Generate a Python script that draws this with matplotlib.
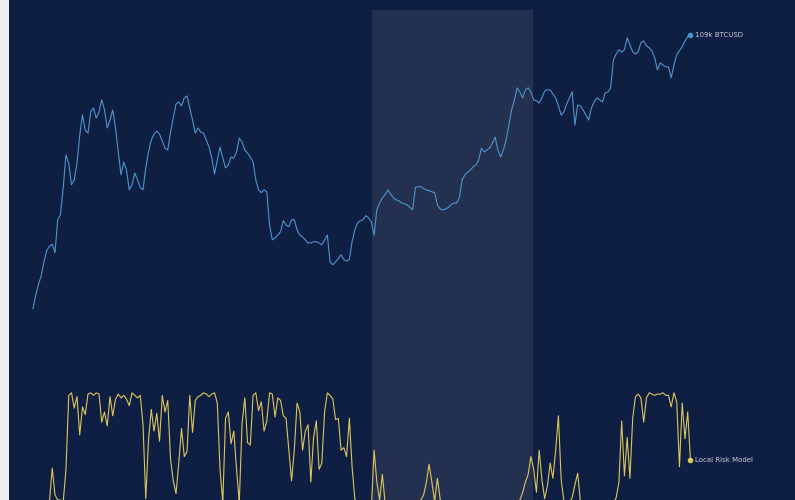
import pandas as pd
import matplotlib.pyplot as plt
from matplotlib.patches import Rectangle

# weekly BTC close (thousands of USD)
btc_price = [
    11.1, 12.4, 13.6, 14.6, 16.4, 18.0, 18.7, 19.0, 17.7, 23.3,
    24.3, 30.5, 40.0, 37.4, 31.2, 32.5, 37.4, 47.2, 55.8, 49.2,
    48.0, 57.3, 59.2, 54.4, 57.3, 63.3, 58.2, 50.1, 53.5, 58.2,
    50.1, 41.0, 33.9, 37.7, 35.3, 29.9, 31.2, 34.4, 32.5, 30.5,
    29.9, 35.9, 41.0, 45.3, 47.6, 48.8, 47.6, 44.9, 42.3, 41.7,
    48.4, 54.4, 61.2, 62.2, 60.2, 64.4, 65.4, 59.2, 53.5, 48.0,
    50.1, 48.4, 48.0, 45.3, 42.7, 39.0, 34.1, 38.3, 42.7, 39.0,
    35.9, 36.8, 39.3, 39.0, 41.0, 46.0, 44.6, 41.7, 40.6, 39.3,
    37.7, 32.5, 29.9, 29.2, 29.9, 29.4, 22.3, 19.7, 20.0, 20.5,
    21.1, 23.1, 22.3, 22.0, 23.3, 23.3, 21.4, 20.5, 20.2, 19.7,
    19.2, 19.2, 19.4, 19.4, 19.2, 18.9, 19.7, 20.5, 16.4, 16.0,
    16.4, 16.9, 17.4, 16.7, 16.5, 16.7, 19.4, 21.4, 22.7, 23.1,
    23.3, 24.1, 23.7, 22.9, 20.5, 25.3, 26.8, 28.0, 28.7, 29.9,
    28.9, 28.0, 27.5, 27.3, 26.8, 26.6, 26.4, 25.8, 25.3, 30.5,
    30.7, 30.7, 30.2, 29.9, 29.7, 29.4, 29.2, 26.4, 25.5, 25.3,
    25.5, 25.8, 26.4, 26.8, 26.8, 28.0, 32.5, 33.9, 34.7, 35.3,
    36.2, 36.8, 38.3, 42.3, 41.0, 41.7, 42.3, 44.2, 46.4, 41.7,
    39.3, 41.7, 45.3, 51.3, 58.2, 63.3, 70.0, 67.7, 64.4, 68.8,
    70.0, 67.7, 63.3, 62.8, 61.7, 64.4, 68.2, 68.8, 68.8, 66.5,
    64.4, 60.2, 55.8, 57.3, 61.2, 64.4, 67.7, 51.3, 60.7, 60.2,
    58.2, 55.8, 53.5, 59.2, 62.2, 64.4, 63.3, 62.2, 67.1, 67.7,
    70.0, 88.4, 92.9, 96.1, 94.5, 96.1, 106.3, 100.2, 94.5, 92.9,
    94.5, 102.0, 103.5, 99.3, 97.8, 95.3, 89.9, 81.3, 86.2, 84.8,
    83.4, 83.4, 76.1, 84.8, 92.2, 95.3, 98.6, 103.5, 107.2, 109.0,
]

# weekly local risk model (0-1)
risk = [
    0.05, 0.06, 0.08, 0.07, 0.10, 0.12, 0.15, 0.41, 0.20, 0.16,
    0.16, 0.15, 0.40, 0.98, 1.00, 0.88, 0.97, 0.67, 0.89, 0.83,
    0.99, 1.00, 0.98, 1.00, 0.99, 0.77, 0.85, 0.74, 0.97, 0.82,
    0.95, 0.99, 0.96, 0.98, 0.95, 0.90, 1.00, 0.98, 0.96, 0.98,
    0.75, 0.17, 0.63, 0.87, 0.70, 0.84, 0.62, 0.98, 0.85, 0.94,
    0.48, 0.31, 0.21, 0.45, 0.72, 0.50, 0.54, 0.98, 0.69, 0.94,
    0.97, 0.98, 1.00, 0.99, 0.97, 0.99, 1.00, 0.92, 0.40, 0.14,
    0.80, 0.85, 0.60, 0.70, 0.40, 0.14, 0.76, 0.96, 0.61, 0.59,
    0.98, 1.00, 0.86, 0.93, 0.70, 0.78, 1.00, 0.99, 0.81, 0.96,
    0.94, 0.82, 0.80, 0.55, 0.31, 0.55, 0.92, 0.85, 0.55, 0.70,
    0.75, 0.30, 0.65, 0.78, 0.40, 0.45, 0.85, 1.00, 0.98, 0.95,
    0.79, 0.80, 0.55, 0.57, 0.50, 0.80, 0.42, 0.17, 0.12, 0.08,
    0.05, 0.04, 0.06, 0.10, 0.55, 0.30, 0.16, 0.36, 0.14, 0.08,
    0.05, 0.04, 0.03, 0.05, 0.07, 0.06, 0.04, 0.05, 0.08, 0.10,
    0.12, 0.16, 0.20, 0.30, 0.44, 0.30, 0.15, 0.33, 0.17, 0.08,
    0.06, 0.05, 0.04, 0.05, 0.06, 0.05, 0.04, 0.03, 0.04, 0.05,
    0.06, 0.05, 0.04, 0.03, 0.04, 0.06, 0.08, 0.07, 0.05, 0.04,
    0.05, 0.07, 0.09, 0.08, 0.10, 0.12, 0.13, 0.16, 0.22, 0.30,
    0.36, 0.50, 0.40, 0.22, 0.55, 0.32, 0.17, 0.27, 0.45, 0.33,
    0.55, 0.82, 0.32, 0.15, 0.12, 0.14, 0.18, 0.28, 0.37, 0.15,
    0.12, 0.10, 0.08, 0.06, 0.05, 0.05, 0.06, 0.07, 0.08, 0.07,
    0.09, 0.12, 0.18, 0.30, 0.78, 0.35, 0.65, 0.33, 0.80, 0.97,
    0.99, 0.96, 0.77, 0.96, 1.00, 0.99, 0.98, 0.99, 0.99, 1.00,
    0.98, 0.98, 0.89, 1.00, 0.93, 0.42, 0.92, 0.64, 0.85, 0.47,
]

start_date = "2020-10-19"
band_start = "2023-03-01"
band_end = "2024-04-14"

bg = "#0f1f43"
band_color = "#233050"
btc_color = "#4f93cb"
risk_color = "#dcc55c"
text_color = "#c5cad6"

price_dates = pd.date_range(start_date, periods=len(btc_price), freq="7D")
risk_dates = pd.date_range(start_date, periods=len(risk), freq="7D")

fig = plt.figure(figsize=(7.95, 5), dpi=100, facecolor=bg)
fig.patches.append(Rectangle((0, 0), 9 / 795, 1, transform=fig.transFigure,
                             facecolor="#eeeef0", edgecolor="none"))

ax = fig.add_axes([9 / 795, 0, 786 / 795, 490 / 500])
ax.set_facecolor(bg)
ax.axvspan(pd.Timestamp(band_start), pd.Timestamp(band_end), color=band_color, lw=0)

ax.plot(price_dates, btc_price, color=btc_color, lw=0.8)
ax.plot(price_dates[-1], btc_price[-1], "o", color=btc_color, ms=3)
ax.annotate(f"{btc_price[-1]:.0f}k BTCUSD", (price_dates[-1], btc_price[-1]),
            xytext=(3, 0), textcoords="offset points", va="center",
            fontsize=5, color=text_color)
ax.set_yscale("log")
ax.set_ylim(2.25, 134)
ax.set_xlim(pd.Timestamp("2020-08-19"), pd.Timestamp("2026-02-09"))

ax2 = ax.twinx()
ax2.plot(risk_dates, risk, color=risk_color, lw=0.8)
ax2.plot(risk_dates[-1], risk[-1], "o", color=risk_color, ms=3)
ax2.annotate("Local Risk Model", (risk_dates[-1], risk[-1]),
             xytext=(3, 0), textcoords="offset points", va="center",
             fontsize=5, color=text_color)
ax2.set_ylim(0.16, 4.0)

for a in (ax, ax2):
    a.set_xticks([])
    a.set_yticks([])
    a.minorticks_off()
    for s in a.spines.values():
        s.set_visible(False)

plt.savefig("out.png", facecolor=bg)
